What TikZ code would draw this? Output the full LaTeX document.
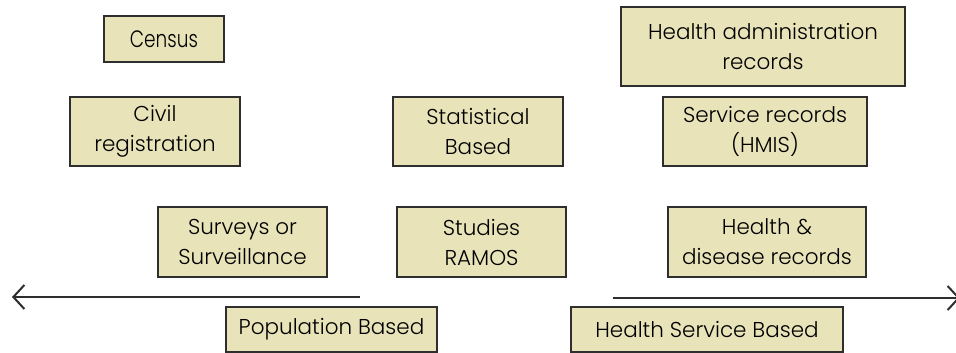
\documentclass[tikz,border=0pt]{standalone}
\usepackage{fontspec}
\usepackage{graphicx}
\setmainfont{Poppins Light}
\usetikzlibrary{arrows.meta}
\definecolor{boxfill}{HTML}{E8E3B9}
\definecolor{boxline}{HTML}{2E2E2E}
\begin{document}
\begin{tikzpicture}[x=1pt,y=-1pt,
  src/.style={draw=boxline,line width=2pt,fill=boxfill,align=center,
    inner sep=0pt,font=\fontsize{21.5}{30}\selectfont},
  axis/.style={draw=boxline,line width=2pt,-{Straight Barb[length=11pt,width=24pt]}}]
\useasboundingbox (0,0) rectangle (956,353);
% population side
\node[src,minimum width=120pt,minimum height=46pt] (census) at (164,39) {\scalebox{0.86}[1.1]{Census}};
\node[src,minimum width=170pt,minimum height=69pt] (civil) at (155,131.5) {Civil\\registration};
\node[src,minimum width=169pt,minimum height=70pt] (surv) at (242.5,242) {Surveys or\\Surveillance};
% statistical
\node[src,minimum width=170pt,minimum height=69pt] (stat) at (478,131.5) {Statistical\\Based};
\node[src,minimum width=169pt,minimum height=70pt] (studies) at (481.5,242) {Studies\\RAMOS};
% health service side
\node[src,minimum width=284pt,minimum height=79pt] (admin) at (763,46.5) {Health administration\\records};
\node[src,minimum width=204pt,minimum height=69pt] (hmis) at (765,131.5) {Service records\\(HMIS)};
\node[src,minimum width=198pt,minimum height=70pt] (disease) at (767,242) {Health \&\\disease records};
% axis
\coordinate (popstart) at (360,297);
\coordinate (popend) at (12,297);
\coordinate (hsstart) at (613,298);
\coordinate (hsend) at (960,298);
\draw[axis] (popstart) -- (popend);
\draw[axis] (hsstart) -- (hsend);
\node[src,minimum width=211pt,minimum height=45pt] (popb) at (331.5,329.5) {Population Based};
\node[src,minimum width=272pt,minimum height=45pt] (hsb) at (707,329.5) {Health Service Based};
\end{tikzpicture}
\end{document}
